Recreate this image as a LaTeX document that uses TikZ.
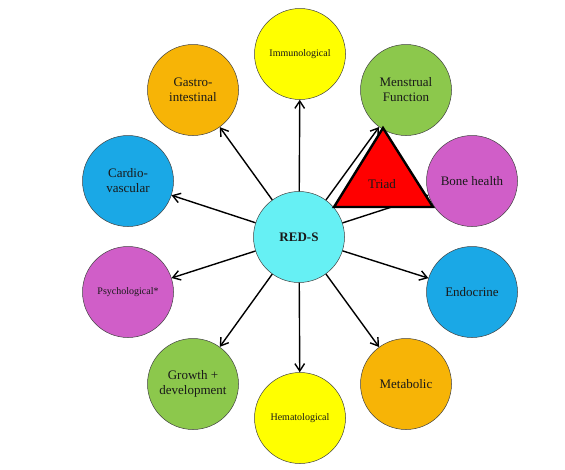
\documentclass[tikz,border=0pt]{standalone}
\usepackage{fontspec}
\setmainfont{Liberation Serif}
\usetikzlibrary{arrows.meta}
\definecolor{cRed}{RGB}{102,240,244}
\definecolor{cYel}{RGB}{255,255,0}
\definecolor{cOra}{RGB}{247,180,6}
\definecolor{cGre}{RGB}{140,200,76}
\definecolor{cBlu}{RGB}{26,168,230}
\definecolor{cMag}{RGB}{208,94,200}
\tikzset{
  bubble/.style={circle, draw=black!75, line width=0.5pt, minimum size=91pt, inner sep=0pt, align=center, font=\fontsize{13}{15}\selectfont, text=black!90},
  smalltxt/.style={font=\fontsize{10}{12}\selectfont},
  link/.style={line width=1.4pt, -{Straight Barb[length=2.6mm,width=3.4mm,line width=1.4pt]}},
  triad/.style={draw=black, line width=2.4pt, fill=red, line join=miter}
}
\begin{document}
\begin{tikzpicture}[x=1pt,y=-1pt]
\useasboundingbox (0,0) rectangle (565,469);
\node[bubble, fill=cRed, font=\fontsize{13}{15}\selectfont\bfseries] (reds) at (299,237) {RED-S};
\node[bubble, fill=cYel, smalltxt] (imm) at (300,54) {Immunological};
\node[bubble, fill=cGre] (men) at (406,90) {Menstrual\\Function};
\node[bubble, fill=cMag] (bone) at (472,181) {Bone health};
\node[bubble, fill=cBlu] (endo) at (472,292) {Endocrine};
\node[bubble, fill=cOra] (meta) at (406,384) {Metabolic};
\node[bubble, fill=cYel, smalltxt] (hema) at (300,418) {Hematological};
\node[bubble, fill=cGre] (grow) at (193,384) {Growth +\\development};
\node[bubble, fill=cMag, smalltxt] (psy) at (128,292) {Psychological*};
\node[bubble, fill=cBlu] (card) at (128,181) {Cardio-\\vascular};
\node[bubble, fill=cOra] (gast) at (193,90) {Gastro-\\intestinal};
\foreach \t in {imm,men,bone,endo,meta,hema,grow,psy,card,gast}
  \draw[link] (reds) -- (\t);
\coordinate (tA) at (383,128);
\coordinate (tL) at (334,207);
\coordinate (tR) at (433,207);
\draw[triad] (tA) -- (tL) -- (tR) -- cycle;
\node[font=\fontsize{13}{15}\selectfont, text=black!90] (triadlbl) at (382,184) {Triad};
\end{tikzpicture}
\end{document}
